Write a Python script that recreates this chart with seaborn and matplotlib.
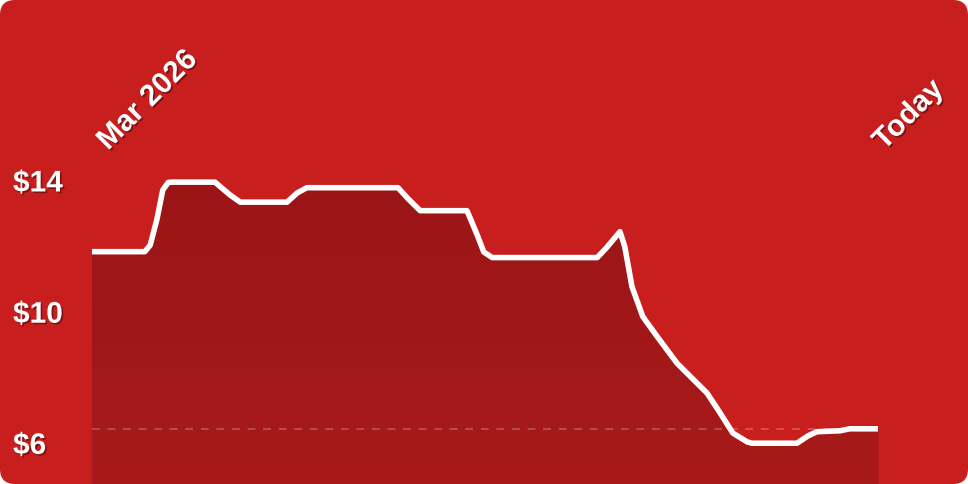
import numpy as np
import pandas as pd
import matplotlib
matplotlib.use("Agg")
import matplotlib.pyplot as plt
import matplotlib.patheffects as pe
from matplotlib.patches import FancyBboxPatch
from matplotlib.transforms import IdentityTransform, ScaledTranslation
from matplotlib.colors import LinearSegmentedColormap
import seaborn as sns

# ---- data ----
days = [0, 8.8, 9.7, 10.8, 11.8, 12.7, 13.3, 20.5, 23.0, 24.7, 32.5, 34.2, 35.8,
        51.0, 52.7, 54.7, 62.5, 64.2, 65.3, 66.7, 84.2, 85.7, 88.0, 88.8, 90.0,
        91.8, 94.2, 97.5, 102.5, 104.7, 106.8, 109.2, 110.0, 117.5, 119.3, 120.8,
        124.7, 126.3, 131.0]
prices = [11.83, 11.83, 12.03, 12.80, 13.71, 13.94, 13.95, 13.95, 13.56, 13.34, 13.34,
          13.62, 13.78, 13.78, 13.44, 13.08, 13.08, 12.34, 11.82, 11.65, 11.65, 11.94,
          12.44, 11.98, 10.76, 9.85, 9.24, 8.43, 7.52, 6.91, 6.30, 6.03, 5.99, 5.99,
          6.21, 6.34, 6.37, 6.43, 6.43]
y_ticks = [6, 10, 14]
y_tick_labels = ["$6", "$10", "$14"]
x_tick_labels = ["Mar 2026", "Today"]

df = pd.DataFrame({"day": days, "price": prices})

sns.set_style("white")
plt.rcParams["font.family"] = ["Liberation Sans", "DejaVu Sans"]

W, H = 968, 484
fig = plt.figure(figsize=(W / 100, H / 100), dpi=100)
fig.patch.set_facecolor("white")

BG = "#C81E1E"
bg = FancyBboxPatch((0, 0), W, H, boxstyle="round,pad=0,rounding_size=15",
                    transform=IdentityTransform(), facecolor=BG, edgecolor="none",
                    zorder=-10)
fig.add_artist(bg)

ax = fig.add_axes([92 / W, 0, 786 / W, (H - 151) / H])
ax.set_facecolor("none")
for s in ax.spines.values():
    s.set_visible(False)

ylo = 14 - (484 - 180.5) / 32.8
yhi = 14 + (180.5 - 151) / 32.8
xmin, xmax = days[0], days[-1]

# gradient fill under the line
poly = ax.fill_between(df["day"], df["price"], ylo, color="#A01718", linewidth=0, zorder=1)
cmap = LinearSegmentedColormap.from_list("g", ["#A81A1A", "#9B1517"])
grad = np.linspace(0, 1, 256).reshape(-1, 1)
im = ax.imshow(grad, extent=[xmin, xmax, ylo, max(prices)], origin="lower",
               aspect="auto", cmap=cmap, zorder=1.5)
im.set_clip_path(poly.get_paths()[0], transform=ax.transData)

# dashed reference line at latest price
ax.axhline(prices[-1], xmin=0, xmax=1, color="white", alpha=0.22, lw=1.4,
           dashes=(4, 4), zorder=2)

sns.lineplot(data=df, x="day", y="price", ax=ax, color="white", linewidth=4.0,
             zorder=5, estimator=None, sort=False)
ln = ax.lines[-1]
ln.set_solid_capstyle("butt")
ln.set_solid_joinstyle("round")

ax.set_xlim(xmin, xmax)
ax.set_ylim(ylo, yhi)
ax.set_xlabel("")
ax.set_ylabel("")

shadow = [pe.withSimplePatchShadow(offset=(1.2, -1.2), shadow_rgbFace="black", alpha=0.35)]

FS = 21.5
ax.set_yticks(y_ticks)
ax.set_yticklabels(y_tick_labels)
ax.tick_params(axis="y", length=0, pad=79 * 0.72, labelsize=FS, labelcolor="white")
for t in ax.get_yticklabels():
    t.set_ha("left")
    t.set_fontweight("bold")
    t.set_path_effects(shadow)

ax.xaxis.tick_top()
ax.set_xticks([xmin, xmax])
ax.set_xticklabels(x_tick_labels)
ax.tick_params(axis="x", length=0, pad=0, labelsize=FS, labelcolor="white")
offsets = [16, 6]
for t, dx in zip(ax.get_xticklabels(), offsets):
    t.set_rotation(45)
    t.set_rotation_mode("anchor")
    t.set_ha("left")
    t.set_va("baseline")
    t.set_fontweight("bold")
    t.set_path_effects(shadow)
    t.set_transform(t.get_transform() + ScaledTranslation(dx / 100, 0, fig.dpi_scale_trans))

fig.savefig("out.png", dpi=100, facecolor="white")
